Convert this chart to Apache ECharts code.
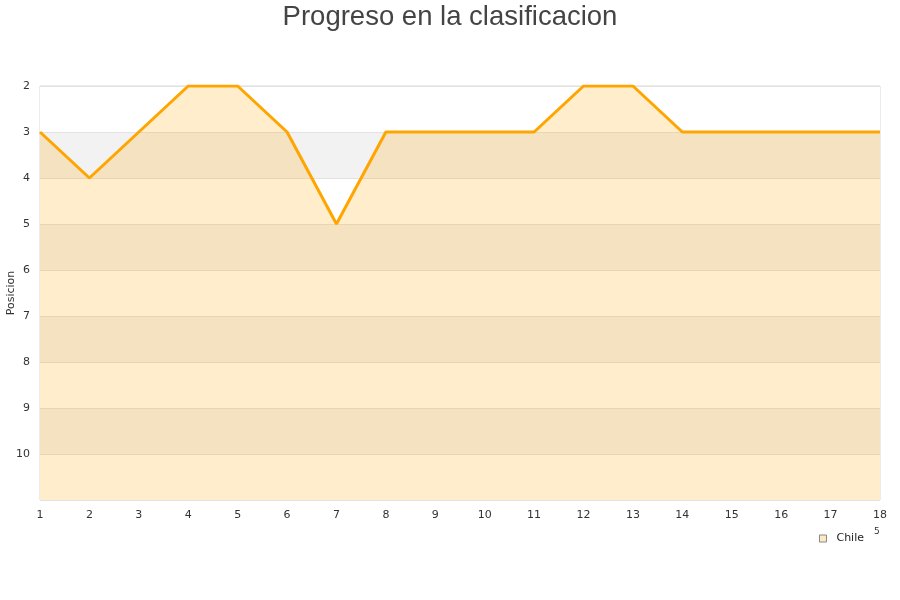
<!DOCTYPE html>
<html><head><meta charset="utf-8">
<script src="https://cdn.jsdelivr.net/npm/echarts@6/dist/echarts.min.js"></script>
<style>html,body{margin:0;padding:0;background:#fff}#c{width:900px;height:600px}</style>
</head><body><div id="c"></div>
<script>
const jornadas = [1,2,3,4,5,6,7,8,9,10,11,12,13,14,15,16,17,18];
const posicionChile = [3,4,3,2,2,3,5,3,3,3,3,2,2,3,3,3,3,3];
const yTicks = [2,3,4,5,6,7,8,9,10];
const serieNombre = 'Chile';
const yNombre = 'Posicion';

const chart = echarts.init(document.getElementById('c'));
chart.setOption({
  animation: false,
  title: {
    text: 'Progreso en la clasificacion', left: 'center', top: -2,
    textStyle: {fontFamily: 'Liberation Sans, Arial, sans-serif', fontSize: 27.5, fontWeight: 'normal', color: '#444'}
  },
  legend: {
    data: [serieNombre], right: 31, top: 528, icon: 'rect', itemWidth: 7, itemHeight: 7, itemGap: 5,
    textStyle: {fontFamily: 'DejaVu Sans', fontSize: 11, color: '#222', padding: [0, 0, 0, 5]},
    itemStyle: {color: '#fde9c4', borderColor: '#888', borderWidth: 1}
  },
  graphic: [
    {type: 'text', left: 874, top: 527, style: {text: '5', font: '9px DejaVu Sans', fill: '#333'}},
    {type: 'text', x: 11, y: 293, rotation: Math.PI / 2,
      style: {text: yNombre, font: '11px DejaVu Sans', fill: '#333', align: 'center', verticalAlign: 'middle'}}
  ],
  grid: {left: 40, right: 20, top: 86, bottom: 100, containLabel: false, outerBoundsMode: 'none',
    show: true, borderColor: '#d8d8d8', borderWidth: 1, backgroundColor: 'transparent'},
  xAxis: {
    type: 'value', min: 1, max: 18, interval: 1,
    axisLine: {show: false}, axisTick: {show: false}, splitLine: {show: false},
    axisLabel: {fontFamily: 'DejaVu Sans', fontSize: 11, color: '#333', margin: 10}
  },
  yAxis: {
    type: 'value', inverse: true, min: 2, max: 11, interval: 1,
    axisLine: {show: false}, axisTick: {show: false},
    axisLabel: {fontFamily: 'DejaVu Sans', fontSize: 11, color: '#333', margin: 10,
      formatter: v => yTicks.includes(v) ? String(v) : ''},
    splitLine: {show: true, lineStyle: {color: '#e2e2e2', width: 1}},
    splitArea: {show: true, areaStyle: {color: ['#ffffff', '#f2f2f2']}}
  },
  series: [{
    name: serieNombre, type: 'line',
    data: jornadas.map((j, i) => [j, posicionChile[i]]),
    symbol: 'none', clip: true,
    lineStyle: {color: '#ffa500', width: 3},
    itemStyle: {color: '#ffa500'},
    areaStyle: {color: '#ffa500', opacity: 0.2, origin: 'end'}
  }]
});
</script></body></html>
